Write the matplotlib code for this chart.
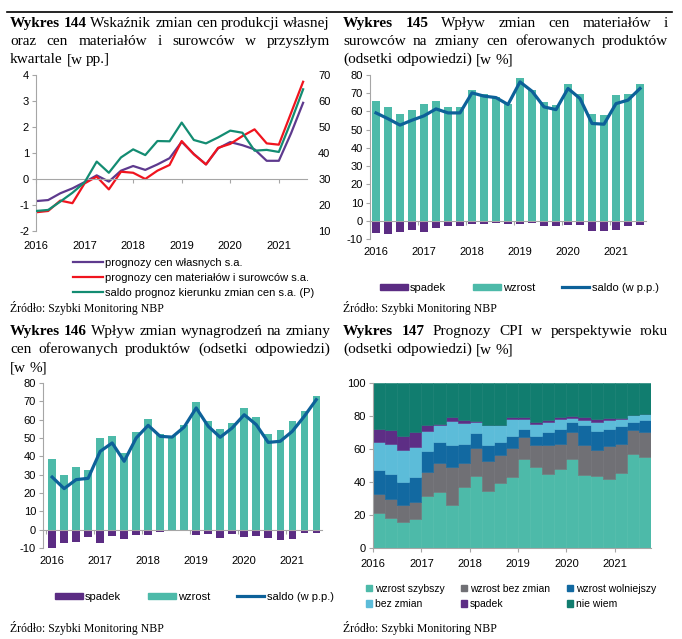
import matplotlib
matplotlib.use("Agg")
import matplotlib.pyplot as plt
from matplotlib.patches import Patch
from matplotlib.lines import Line2D

W, H = 682, 639

# quarterly observations 2016Q1 .. 2021Q3
quarters = [2016 + 0.25 * i for i in range(23)]
years = [2016, 2017, 2018, 2019, 2020, 2021]
year_labels = [str(y) for y in years]

# Wykres 144 (left axis, pp.) and saldo (right axis)
own_prices = [-0.85, -0.81, -0.55, -0.36, -0.12, 0.14, -0.10, 0.32, 0.50, 0.35, 0.56, 0.80,
              1.43, 0.96, 0.56, 1.18, 1.42, 1.30, 1.14, 0.70, 0.70, 1.75, 2.93]
material_prices = [-1.28, -1.23, -0.83, -0.93, -0.17, 0.09, -0.40, 0.28, 0.24, 0.00, 0.32, 0.54,
                   1.46, 0.95, 0.56, 1.20, 1.35, 1.65, 1.91, 1.37, 1.32, 2.53, 3.74]
price_balance = [17.7, 18.1, 21.3, 24.7, 28.7, 36.7, 32.4, 38.3, 41.4, 39.2, 44.6, 44.5,
                 51.7, 45.0, 43.7, 46.0, 48.6, 47.8, 40.9, 41.2, 40.4, 52.0, 64.5]

# Wykres 145
mat_up = [65.8, 62.3, 58.7, 60.7, 64.2, 65.6, 62.7, 62.7, 71.7, 69.5, 67.8, 64.3,
          78.6, 71.7, 65.0, 63.6, 75.0, 69.5, 58.5, 58.0, 69.0, 69.5, 75.0]
mat_down = [-6.6, -7.1, -6.2, -5.1, -6.2, -3.8, -3.1, -2.7, -2.0, -1.6, -1.2, -1.6,
            -2.0, -1.3, -2.7, -2.7, -2.5, -2.4, -5.5, -5.5, -4.9, -2.9, -2.2]
mat_saldo = [59.2, 56.0, 52.5, 55.2, 57.6, 61.4, 59.2, 59.2, 70.2, 68.4, 67.6, 63.8,
             76.2, 71.1, 62.5, 61.0, 72.6, 67.1, 53.4, 53.0, 64.3, 66.2, 72.6]

# Wykres 146
wage_up = [38.7, 30.0, 34.2, 32.5, 49.8, 50.9, 42.0, 53.5, 60.4, 52.4, 50.9, 57.1,
           69.8, 59.1, 54.9, 58.2, 66.4, 61.3, 52.4, 54.5, 59.5, 64.9, 73.1]
wage_down = [-10.2, -7.3, -6.9, -4.0, -7.1, -3.5, -5.1, -3.1, -3.1, -1.3, -0.9, -0.9,
             -3.1, -2.4, -4.5, -2.2, -3.8, -3.6, -4.7, -5.8, -4.9, -1.6, -2.0]
wage_saldo = [28.7, 22.4, 27.3, 28.0, 42.7, 47.3, 37.3, 50.0, 56.9, 50.9, 50.5, 56.0,
              66.4, 56.4, 50.4, 55.5, 62.7, 57.3, 47.6, 48.2, 53.6, 61.8, 70.9]

# Wykres 147 (shares of answers, %)
cpi_faster = [21.2, 18.2, 15.6, 17.6, 31.7, 33.9, 26.3, 36.8, 43.4, 34.3, 39.4, 42.8,
              53.9, 48.9, 45.0, 48.1, 54.1, 44.4, 43.4, 42.0, 45.5, 57.0, 55.2]
cpi_same_growth = [11.5, 11.5, 10.7, 10.1, 14.4, 17.6, 22.6, 14.7, 17.2, 18.2, 16.8, 17.8,
                   13.4, 13.7, 17.6, 15.1, 16.0, 17.8, 15.8, 20.0, 17.7, 14.7, 14.9]
cpi_slower = [14.8, 15.3, 13.9, 15.1, 12.5, 12.5, 13.7, 11.7, 9.1, 10.1, 7.8, 7.5,
              5.0, 5.5, 7.5, 8.9, 6.1, 12.1, 11.7, 10.3, 10.5, 4.7, 7.7]
cpi_no_change = [16.5, 18.2, 19.0, 18.4, 12.1, 10.3, 14.2, 12.6, 6.5, 11.7, 10.3, 10.1,
                 5.9, 7.1, 6.3, 6.3, 2.6, 3.5, 5.5, 5.5, 4.7, 4.0, 3.4]
cpi_fall = [8.1, 8.1, 8.9, 9.1, 4.0, 0.9, 2.4, 1.6, 0.6, 0.4, 0.4, 1.0,
            1.0, 1.0, 1.4, 0.8, 1.4, 1.6, 1.8, 1.0, 0.4, 0.4, 0.2]
cpi_dont_know = [27.9, 28.7, 31.9, 29.7, 25.3, 24.8, 20.8, 22.6, 23.2, 25.3, 25.3, 20.8,
                 20.8, 23.8, 22.2, 20.8, 19.8, 20.6, 21.8, 21.2, 21.2, 19.2, 18.6]
cpi_labels = ["wzrost szybszy", "wzrost bez zmian", "wzrost wolniejszy",
              "bez zmian", "spadek", "nie wiem"]

TEAL = "#4DBAA9"
PURPLE = "#5B2C83"
SALDO = "#0D6199"
SPINE = "#A6A6A6"
SANS = "Liberation Sans"
SERIF = "Liberation Serif"
TICK_FS = 8

plt.rcParams["font.family"] = [SANS, "DejaVu Sans"]
plt.rcParams["axes.unicode_minus"] = False

fig = plt.figure(figsize=(W / 100, H / 100), dpi=100)


def px_axes(left, top, right, bottom):
    return fig.add_axes([left / W, 1 - bottom / H, (right - left) / W, (bottom - top) / H])


def title_line(words, x0, x1, y, justify=True, bold_n=0, size=11):
    r = fig.canvas.get_renderer()
    arts = [fig.text(0, 1 - y / H, w, fontsize=size, family=SERIF, va="baseline",
                     fontweight="bold" if i < bold_n else "normal")
            for i, w in enumerate(words)]
    widths = [a.get_window_extent(r).width for a in arts]
    if justify and len(words) > 1:
        gap = (x1 - x0 - sum(widths)) / (len(words) - 1)
    else:
        gap = size * 0.25 * 100 / 72
    x = x0
    for a, wd in zip(arts, widths):
        a.set_x(x / W)
        x += wd + gap


def style_bar_axes(ax, ylim, xlim):
    ax.set_ylim(*ylim)
    ax.set_xlim(*xlim)
    ax.set_yticks(range(-10, 81, 10))
    for s in ("top", "right"):
        ax.spines[s].set_visible(False)
    ax.spines["left"].set_color(SPINE)
    ax.spines["bottom"].set_color(SPINE)
    ax.spines["bottom"].set_position(("data", 0))
    ax.set_xticks([y - 0.125 for y in years])
    ax.tick_params(axis="x", labelbottom=False, length=3, color=SPINE)
    ax.tick_params(axis="y", length=3, color=SPINE, labelsize=TICK_FS, pad=2)
    sec = ax.secondary_xaxis("bottom")
    sec.set_xticks(years, labels=year_labels)
    sec.tick_params(length=0, labelsize=TICK_FS, pad=6)
    sec.spines["bottom"].set_visible(False)


# ---------- Wykres 144 ----------
ax1 = px_axes(36, 75, 307, 231)
ax1.set_xlim(2016, 2021.58)
ax1.set_ylim(-2, 4)
l_own, = ax1.plot(quarters, own_prices, color="#5E3A8E", lw=1.6)
l_mat, = ax1.plot(quarters, material_prices, color="#F0141E", lw=1.6)
for s in ("top", "right"):
    ax1.spines[s].set_visible(False)
ax1.spines["left"].set_color(SPINE)
ax1.spines["bottom"].set_color(SPINE)
ax1.spines["bottom"].set_position(("data", 0))
ax1.set_xticks(years)
ax1.tick_params(axis="x", labelbottom=False, length=3, color=SPINE)
ax1.tick_params(axis="y", length=3, color=SPINE, labelsize=TICK_FS, pad=2)
sec1 = ax1.secondary_xaxis("bottom")
sec1.set_xticks(years, labels=year_labels)
sec1.tick_params(length=0, labelsize=TICK_FS, pad=7)
sec1.spines["bottom"].set_visible(False)
ax1r = ax1.twinx()
ax1r.set_ylim(10, 70)
l_bal, = ax1r.plot(quarters, price_balance, color="#138C72", lw=1.6)
for s in ax1r.spines.values():
    s.set_visible(False)
ax1r.tick_params(axis="y", length=0, labelsize=TICK_FS, pad=8)
fig.legend([l_own, l_mat, l_bal],
           ["prognozy cen własnych s.a.", "prognozy cen materiałów i surowców s.a.",
            "saldo prognoz kierunku zmian cen s.a. (P)"],
           loc="center left", bbox_to_anchor=(73 / W, 1 - 278 / H), frameon=False,
           fontsize=TICK_FS, borderpad=0, borderaxespad=0, handlelength=2.7,
           handletextpad=0.2, labelspacing=0.45)

# ---------- Wykres 145 ----------
ax2 = px_axes(370, 75, 646, 239)
ax2.bar(quarters, mat_down, width=0.155, color=PURPLE)
ax2.bar(quarters, mat_up, width=0.155, color=TEAL)
ax2.plot(quarters, mat_saldo, color=SALDO, lw=2.3)
style_bar_axes(ax2, (-10, 80), (2015.875, 2021.625))

# ---------- Wykres 146 ----------
ax3 = px_axes(43, 383, 322, 548)
ax3.bar(quarters, wage_down, width=0.155, color=PURPLE)
ax3.bar(quarters, wage_up, width=0.155, color=TEAL)
ax3.plot(quarters, wage_saldo, color=SALDO, lw=2.3)
style_bar_axes(ax3, (-10, 80), (2015.81, 2021.62))

bar_handles = [Patch(color=PURPLE), Patch(color=TEAL), Line2D([], [], color=SALDO, lw=2.3)]
bar_labels = ["spadek", "wzrost", "saldo (w p.p.)"]
for x, y in ((380, 288), (55, 597)):
    fig.legend(bar_handles, bar_labels, ncol=3, loc="center left",
               bbox_to_anchor=(x / W, 1 - y / H), frameon=False, fontsize=TICK_FS,
               borderpad=0, borderaxespad=0, handlelength=2.5, handleheight=0.55,
               handletextpad=0.2, columnspacing=2.4)

# ---------- Wykres 147 ----------
ax4 = px_axes(373, 383, 651, 548)
cpi_colors = [TEAL, "#707075", "#1269A1", "#5CBCD9", "#5D2E85", "#117D6F"]
bottom = [0.0] * len(quarters)
for vals, col in zip([cpi_faster, cpi_same_growth, cpi_slower, cpi_no_change, cpi_fall,
                      cpi_dont_know], cpi_colors):
    ax4.bar(quarters, vals, width=0.25, bottom=bottom, align="edge", color=col,
            edgecolor=col, linewidth=0.4)
    bottom = [b + v for b, v in zip(bottom, vals)]
ax4.set_xlim(2016, 2021.75)
ax4.set_ylim(0, 100)
ax4.set_yticks(range(0, 101, 20))
ax4.set_xticks(years, labels=year_labels)
for s in ("top", "right"):
    ax4.spines[s].set_visible(False)
ax4.spines["left"].set_color(SPINE)
ax4.spines["bottom"].set_color(SPINE)
ax4.tick_params(length=3, color=SPINE, labelsize=TICK_FS, pad=2)
ax4.tick_params(axis="x", pad=5)
h = [Patch(color=c) for c in cpi_colors]
order = [0, 3, 1, 4, 2, 5]
fig.legend([h[i] for i in order], [cpi_labels[i] for i in order], ncol=3,
           loc="center left", bbox_to_anchor=(366 / W, 1 - 596.5 / H), frameon=False,
           fontsize=7.5, borderpad=0, borderaxespad=0, handlelength=0.55,
           handleheight=0.55, handletextpad=0.3, columnspacing=1.6, labelspacing=0.5)

# ---------- titles & sources ----------
fig.add_artist(Line2D([7 / W, 672 / W], [1 - 12 / H] * 2, color="black", lw=1.2))

title_line(["Wykres", "144", "Wskaźnik", "zmian", "cen", "produkcji", "własnej"], 10, 330, 27, bold_n=2)
title_line(["oraz", "cen", "materiałów", "i", "surowców", "w", "przyszłym"], 10, 330, 45)
title_line(["kwartale", "[w", "pp.]"], 10, 330, 63, justify=False)

title_line(["Wykres", "145", "Wpływ", "zmian", "cen", "materiałów", "i"], 343, 668, 27, bold_n=2)
title_line(["surowców", "na", "zmiany", "cen", "oferowanych", "produktów"], 343, 668, 45)
title_line(["(odsetki", "odpowiedzi)", "[w", "%]"], 343, 668, 63, justify=False)

title_line(["Wykres", "146", "Wpływ", "zmian", "wynagrodzeń", "na", "zmiany"], 10, 330, 335, bold_n=2)
title_line(["cen", "oferowanych", "produktów", "(odsetki", "odpowiedzi)"], 10, 330, 353)
title_line(["[w", "%]"], 10, 330, 371, justify=False)

title_line(["Wykres", "147", "Prognozy", "CPI", "w", "perspektywie", "roku"], 343, 668, 335, bold_n=2)
title_line(["(odsetki", "odpowiedzi)", "[w", "%]"], 343, 668, 353, justify=False)

for x, y in ((10, 312), (343, 312), (10, 632), (343, 632)):
    fig.text(x / W, 1 - y / H, "Źródło: Szybki Monitoring NBP", fontsize=8.5,
             family=SERIF, va="baseline")

fig.savefig("out.png", dpi=100)
